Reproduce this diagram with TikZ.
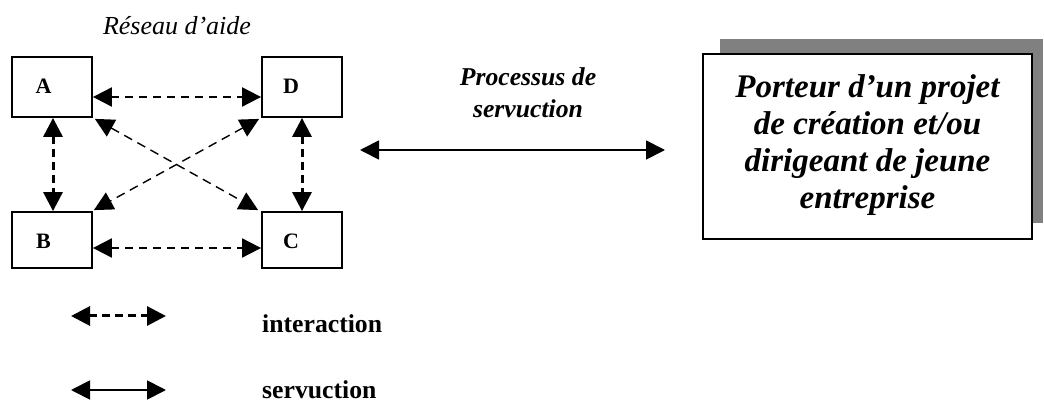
\documentclass[tikz,border=0pt]{standalone}
\usepackage{fontspec}
\setmainfont{Liberation Serif}
\usetikzlibrary{arrows.meta}
\begin{document}
\begin{tikzpicture}[x=1pt,y=-1pt,
  box/.style={draw, line width=1.8pt, inner sep=0pt, fill=white},
  boxlabel/.style={font=\fontsize{22}{26}\selectfont\bfseries, anchor=base, inner sep=0pt},
  biarrow/.style={{Triangle[length=19pt,width=19pt]}-{Triangle[length=19pt,width=19pt]}},
  interh/.style={biarrow, line width=2pt, dash pattern=on 8pt off 6pt},
  interv/.style={biarrow, line width=3pt, dash pattern=on 8pt off 5pt},
  interd/.style={biarrow, line width=1.4pt, dash pattern=on 9pt off 6pt},
  servarrow/.style={biarrow, line width=1.8pt},
  legtext/.style={font=\fontsize{25.7}{30}\selectfont\bfseries, anchor=base west, inner sep=0pt}
]
\useasboundingbox (0,0) rectangle (1044,403);

% title of the network
\node[font=\fontsize{26}{30}\selectfont\itshape, anchor=base, inner sep=0pt] (title) at (177,35) {Réseau d’aide};

% network boxes
\node[box, minimum width=80pt, minimum height=60pt] (A) at (52,87) {};
\node[box, minimum width=80pt, minimum height=60pt] (D) at (302,87) {};
\node[box, minimum width=80pt, minimum height=56pt] (B) at (52,240) {};
\node[box, minimum width=80pt, minimum height=56pt] (C) at (302,240) {};
\node[boxlabel] (la) at (43.5,94) {A};
\node[boxlabel] (ld) at (291,94) {D};
\node[boxlabel] (lb) at (43.5,249) {B};
\node[boxlabel] (lc) at (291,249) {C};

% interactions
\draw[interh] ([yshift=-10pt]A.east) -- ([yshift=-10pt]D.west);
\draw[interh] ([yshift=-8pt]B.east) -- ([yshift=-8pt]C.west);
\draw[interv] ([xshift=1pt]A.south) -- ([xshift=1pt]B.north);
\draw[interv] (D.south) -- (C.north);
\draw[interd] ([shift={(2pt,-1pt)}]A.south east) -- ([shift={(-3pt,1pt)}]C.north west);
\draw[interd] ([shift={(-2pt,-1pt)}]D.south west) -- ([shift={(1pt,1pt)}]B.north east);

% process of servuction
\node[align=center, font=\fontsize{25.7}{32}\selectfont\bfseries\itshape, inner sep=0pt] (proc) at (528,93) {Processus de\\servuction};
\coordinate (s1) at (360,150);
\coordinate (s2) at (665,150);
\draw[servarrow] (s1) -- (s2);

% porteur box with shadow
\fill[fill={rgb,255:red,128;green,128;blue,128}] (720,39) rectangle (1043,223);
\node[box, minimum width=329pt, minimum height=185pt] (P) at (867.5,146.5) {};
\node[align=center, font=\fontsize{33}{37}\selectfont\bfseries\itshape, inner sep=0pt] (pt) at (867.5,145) {Porteur d’un projet\\de création et/ou\\dirigeant de jeune\\entreprise};

% legend
\coordinate (l1a) at (71,316);
\coordinate (l1b) at (166,316);
\coordinate (l2a) at (71,390);
\coordinate (l2b) at (166,390);
\draw[biarrow, line width=3pt, dash pattern=on 8pt off 5pt] (l1a) -- (l1b);
\draw[servarrow] (l2a) -- (l2b);
\node[legtext] (li) at (262,332) {interaction};
\node[legtext] (ls) at (262,398) {servuction};
\end{tikzpicture}
\end{document}
